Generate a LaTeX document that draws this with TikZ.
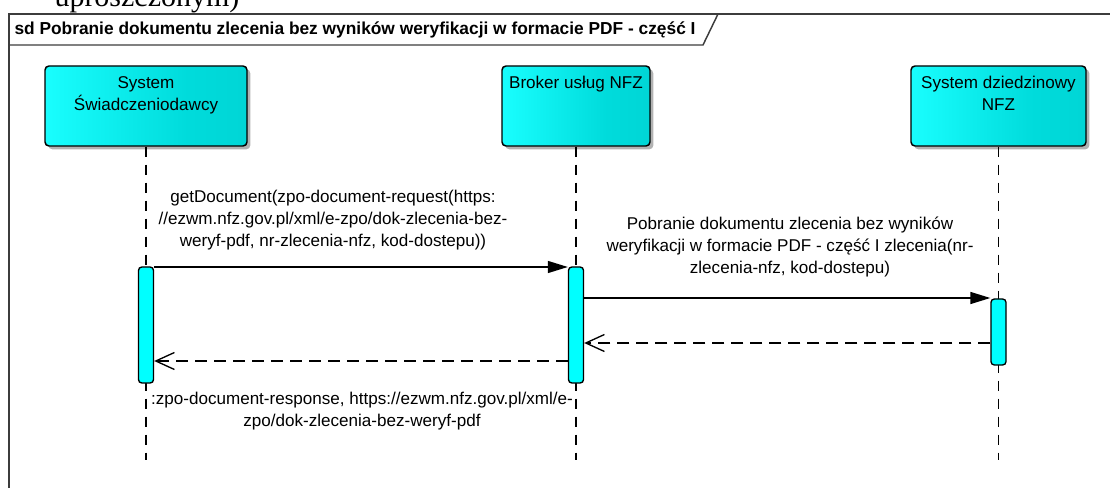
\documentclass[tikz,border=0pt]{standalone}
\usepackage{fontspec}
\setmainfont{Liberation Sans}
\newfontfamily\cutfont{Liberation Serif}
\usetikzlibrary{arrows.meta,shadows}

\definecolor{barcyan}{RGB}{0,255,255}
\definecolor{framegray}{RGB}{60,60,60}
\pgfdeclarehorizontalshading{actorshade}{100bp}{rgb(0bp)=(0,0.87,0.87); rgb(24bp)=(0.1,1,1); rgb(60bp)=(0,0.86,0.86); rgb(100bp)=(0,0.8,0.8)}

\tikzset{every picture/.style={line width=0.75pt}}
\tikzset{
  actor/.style={draw=black, line width=1.1pt, rounded corners=3pt, shade, shading=actorshade,
    minimum height=60pt, inner sep=0pt,
    drop shadow={shadow xshift=2.5pt, shadow yshift=-2.5pt, opacity=0.3, fill=black}},
  bar/.style={draw=black, line width=1pt, fill=barcyan, rounded corners=2.5pt,
    minimum width=11.25pt, inner sep=0pt},
  lifeline/.style={draw=black, line width=1.1pt, dash pattern=on 7.5pt off 6pt},
  msg/.style={draw=black, line width=1pt, -{Triangle[length=15pt,width=9pt]}},
  reply/.style={draw=black, line width=1pt, dash pattern=on 9pt off 5.25pt,
    -{Straight Barb[length=14pt,width=12.75pt,line width=1pt]}},
  lbl/.style={font=\fontsize{12.8}{16.5}\selectfont, align=center, inner sep=0pt},
}

\begin{document}
\begin{tikzpicture}[x=0.75pt,y=0.75pt,yscale=-1,xscale=1]
    \useasboundingbox (0,0) rectangle (1110,488);
    \clip (0,0) rectangle (1110,488);
    % Text Node (cut off above the frame)
    \node (cutline) [anchor=base west, inner sep=0pt, font=\cutfont\fontsize{22.5}{27}\selectfont] at (54,7) {uproszczonym)};
    %Shape: Frame
    \draw [framegray, line width=1.1pt] (9,500) -- (9,14) -- (1120,14) ;
    %Shape: Title tab
    \draw [framegray, line width=1.1pt] (9,45) -- (703,45) -- (718,14) ;
    % Text Node
    \node (title) [anchor=west, inner sep=0pt, font=\bfseries\fontsize{13}{15}\selectfont] at (14,30) {sd Pobranie dokumentu zlecenia bez wyników weryfikacji w formacie PDF - część I};

    %Shape: Actors
    \node (sys) [actor, minimum width=151.5pt] at (146,106) {};
    \node (bro) [actor, minimum width=111pt] at (576,106) {};
    \node (dzi) [actor, minimum width=131.25pt] at (998.5,106) {};
    % Text Node
    \node (sysname) [lbl, anchor=north] at (146,76) {System\\Świadczeniodawcy};
    \node (broname) [lbl, anchor=north] at (576,76) {Broker usług NFZ};
    \node (dziname) [lbl, anchor=north] at (998.5,76) {System dziedzinowy\\NFZ};

    %Straight Lines: lifelines
    \coordinate (sysEnd) at (146,460);
    \coordinate (broEnd) at (576,460);
    \coordinate (dziEnd) at (998.5,460);
    \draw [lifeline] (sys.south) -- (sysEnd) ;
    \draw [lifeline] (bro.south) -- (broEnd) ;
    \draw [lifeline] (dzi.south) -- (dziEnd) ;

    %Shape: Activations
    \node (sysBar) [bar, minimum height=87pt] at (146,325) {};
    \node (broBar) [bar, minimum height=87pt] at (576,325) {};
    \node (dziBar) [bar, minimum height=49.5pt] at (998.5,332) {};

    %Straight Lines: messages
    \coordinate (m1) at (0,267);
    \coordinate (m2) at (0,298);
    \coordinate (r1) at (0,343);
    \coordinate (r2) at (0,361);
    \draw [msg] (sysBar.east |- m1) -- (broBar.west |- m1) ;
    \draw [msg] (broBar.east |- m2) -- (dziBar.west |- m2) ;
    \draw [reply] (dziBar.west |- r1) -- (broBar.east |- r1) ;
    \draw [reply] (broBar.west |- r2) -- (sysBar.east |- r2) ;

    % Text Node
    \node (m1lbl) [lbl] at (333,220) {getDocument(zpo-document-request(https:\\//ezwm.nfz.gov.pl/xml/e-zpo/dok-zlecenia-bez-\\weryf-pdf, nr-zlecenia-nfz, kod-dostepu))};
    % Text Node
    \node (m2lbl) [lbl] at (790,247) {Pobranie dokumentu zlecenia bez wyników\\weryfikacji w formacie PDF - część I zlecenia(nr-\\zlecenia-nfz, kod-dostepu)};
    % Text Node
    \node (r2lbl) [lbl] at (362,411) {:zpo-document-response, https://ezwm.nfz.gov.pl/xml/e-\\zpo/dok-zlecenia-bez-weryf-pdf};
\end{tikzpicture}
\end{document}
